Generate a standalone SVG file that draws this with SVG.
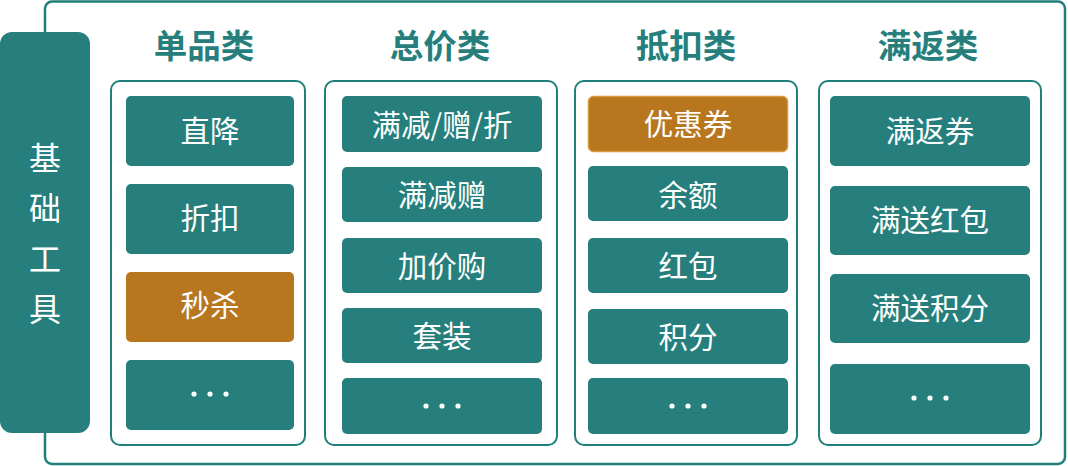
<svg xmlns="http://www.w3.org/2000/svg" width="1068" height="466" viewBox="0 0 1068 466">
<style>
.frame{fill:#fff;stroke:#1f7f7a;stroke-width:2.5}
.panel{fill:#fff;stroke:#1f7f7a;stroke-width:2}
.item{fill:#267f7c}
.hl{fill:#b8771f;stroke:#d39a3a;stroke-width:1.5}
.t{font-family:"Noto Sans CJK SC","Noto Sans",sans-serif;fill:#fff;font-size:29.5px;text-anchor:middle;dominant-baseline:central}
.title{font-family:"Noto Sans CJK SC","Noto Sans",sans-serif;fill:#267f7c;font-size:33.5px;font-weight:bold;text-anchor:middle;dominant-baseline:central}
.side{font-family:"Noto Sans CJK SC","Noto Sans",sans-serif;fill:#fff;font-size:32px;text-anchor:middle;dominant-baseline:central}
.dot{fill:#fff}
</style>
<rect class="frame" x="45" y="1.5" width="1020" height="462.5" rx="7"/>
<g id="base">
<rect class="item" x="0" y="32" width="90" height="401" rx="12"/>
<text class="side" x="45" y="156">基</text>
<text class="side" x="45" y="206">础</text>
<text class="side" x="45" y="257">工</text>
<text class="side" x="45" y="307">具</text>
</g>
<g id="col1">
<text class="title" x="204" y="43">单品类</text>
<rect class="panel" x="111" y="81" width="194" height="364" rx="9"/>
<rect class="item" x="126" y="96" width="168" height="70" rx="5"/>
<text class="t" x="210" y="129">直降</text>
<rect class="item" x="126" y="184" width="168" height="70" rx="5"/>
<text class="t" x="210" y="216">折扣</text>
<rect class="item" x="126" y="272" width="168" height="70" rx="5" style="fill:#b8771f"/>
<text class="t" x="210" y="303">秒杀</text>
<rect class="item" x="126" y="360" width="168" height="70" rx="5"/>
<circle class="dot" cx="194" cy="394" r="2.6"/><circle class="dot" cx="210" cy="394" r="2.6"/><circle class="dot" cx="226" cy="394" r="2.6"/>
</g>
<g id="col2">
<text class="title" x="440" y="43">总价类</text>
<rect class="panel" x="325" y="81" width="232" height="364" rx="9"/>
<rect class="item" x="342" y="96" width="200" height="56" rx="5"/>
<text class="t" x="442" y="123">满减/赠/折</text>
<rect class="item" x="342" y="167" width="200" height="55" rx="5"/>
<text class="t" x="442" y="193">满减赠</text>
<rect class="item" x="342" y="238" width="200" height="55" rx="5"/>
<text class="t" x="442" y="264">加价购</text>
<rect class="item" x="342" y="308" width="200" height="55" rx="5"/>
<text class="t" x="442" y="334">套装</text>
<rect class="item" x="342" y="378" width="200" height="56" rx="5"/>
<circle class="dot" cx="426" cy="406" r="2.6"/><circle class="dot" cx="442" cy="406" r="2.6"/><circle class="dot" cx="458" cy="406" r="2.6"/>
</g>
<g id="col3">
<text class="title" x="686" y="43">抵扣类</text>
<rect class="panel" x="575" y="81" width="222" height="364" rx="9"/>
<rect class="hl" x="588.5" y="96.5" width="199" height="55" rx="5"/>
<text class="t" x="688" y="122">优惠券</text>
<rect class="item" x="588" y="166" width="200" height="55" rx="5"/>
<text class="t" x="688" y="193">余额</text>
<rect class="item" x="588" y="238" width="200" height="55" rx="5"/>
<text class="t" x="688" y="264">红包</text>
<rect class="item" x="588" y="309" width="200" height="55" rx="5"/>
<text class="t" x="688" y="335">积分</text>
<rect class="item" x="588" y="378" width="200" height="56" rx="5"/>
<circle class="dot" cx="672" cy="406" r="2.6"/><circle class="dot" cx="688" cy="406" r="2.6"/><circle class="dot" cx="704" cy="406" r="2.6"/>
</g>
<g id="col4">
<text class="title" x="928" y="43">满返类</text>
<rect class="panel" x="819" y="81" width="222" height="364" rx="9"/>
<rect class="item" x="830" y="96" width="200" height="70" rx="5"/>
<text class="t" x="930" y="129">满返券</text>
<rect class="item" x="830" y="186" width="200" height="69" rx="5"/>
<text class="t" x="930" y="218">满送红包</text>
<rect class="item" x="830" y="274" width="200" height="69" rx="5"/>
<text class="t" x="930" y="306">满送积分</text>
<rect class="item" x="830" y="364" width="200" height="70" rx="5"/>
<circle class="dot" cx="914" cy="398" r="2.6"/><circle class="dot" cx="930" cy="398" r="2.6"/><circle class="dot" cx="946" cy="398" r="2.6"/>
</g>
<g id="connectors"></g>
</svg>
